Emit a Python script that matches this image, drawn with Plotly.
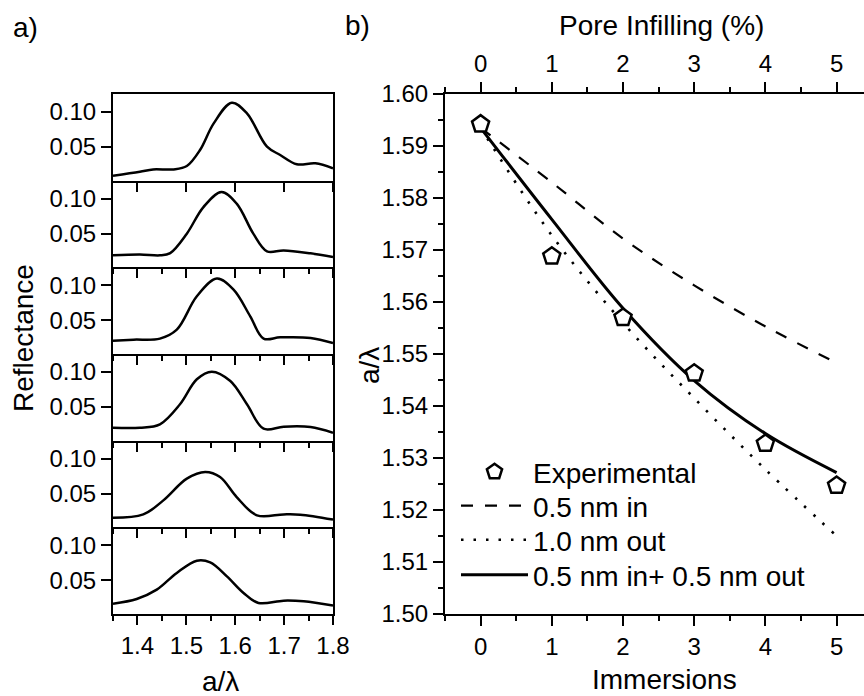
import plotly.graph_objects as go

W, H = 864, 696
FONT = "Liberation Sans, Arial, sans-serif"

# ---------- panel a) reflectance spectra (top to bottom) ----------
spec1_x = [1.35, 1.405, 1.432, 1.474, 1.501, 1.528, 1.556, 1.593, 1.624, 1.665, 1.692, 1.726, 1.764, 1.80]
spec1_y = [0.009, 0.0147, 0.018, 0.018, 0.0229, 0.0457, 0.0838, 0.1133, 0.098, 0.0505, 0.0386, 0.0253, 0.0267, 0.0196]
spec2_x = [1.35, 1.405, 1.446, 1.467, 1.501, 1.535, 1.572, 1.603, 1.637, 1.665, 1.699, 1.754, 1.80]
spec2_y = [0.019, 0.0204, 0.019, 0.0223, 0.05, 0.088, 0.1094, 0.0929, 0.05, 0.0247, 0.0261, 0.0219, 0.0166]
spec3_x = [1.35, 1.392, 1.446, 1.4805, 1.5215, 1.5625, 1.5966, 1.6307, 1.658, 1.692, 1.754, 1.80]
spec3_y = [0.021, 0.0224, 0.0239, 0.0367, 0.0843, 0.1096, 0.0939, 0.0557, 0.0239, 0.0257, 0.0249, 0.0177]
spec4_x = [1.35, 1.405, 1.446, 1.487, 1.5215, 1.552, 1.590, 1.624, 1.658, 1.699, 1.754, 1.80]
spec4_y = [0.0204, 0.0204, 0.0253, 0.0539, 0.0896, 0.1005, 0.0871, 0.0539, 0.019, 0.0219, 0.0214, 0.0133]
spec5_x = [1.35, 1.412, 1.453, 1.501, 1.5385, 1.569, 1.603, 1.6445, 1.699, 1.733, 1.80]
spec5_y = [0.0157, 0.0204, 0.0404, 0.0714, 0.0809, 0.0737, 0.0451, 0.019, 0.0204, 0.0200, 0.0129]
spec6_x = [1.35, 1.3985, 1.4395, 1.4805, 1.5215, 1.5488, 1.583, 1.617, 1.6475, 1.699, 1.74, 1.80]
spec6_y = [0.0167, 0.0234, 0.0367, 0.0606, 0.0781, 0.0757, 0.0557, 0.032, 0.0177, 0.021, 0.0200, 0.0139]

spectra_x = [spec1_x, spec2_x, spec3_x, spec4_x, spec5_x, spec6_x]
spectra_y = [spec1_y, spec2_y, spec3_y, spec4_y, spec5_y, spec6_y]

refl_ticks = [0.05, 0.10]
alam_ticks = [1.4, 1.5, 1.6, 1.7, 1.8]

# ---------- panel b) peak position vs immersions ----------
immersions = [0, 1, 2, 3, 4, 5]
experimental = [1.5942, 1.5688, 1.5570, 1.5463, 1.5328, 1.5247]
model_in = [1.5935, 1.5830, 1.5722, 1.5632, 1.5553, 1.5483]
model_out = [1.5935, 1.5728, 1.5560, 1.5415, 1.5278, 1.5150]
model_both = [1.5935, 1.5759, 1.5588, 1.5449, 1.5347, 1.5272]

fig = go.Figure()

# layout geometry (pixels)
L_X0, L_X1 = 113, 333
R_X0 = 445
TOP, BOT = 94, 614
n = 6
ph = (BOT - TOP) / n

def py(p):
    return 1 - p / H

layout = dict(
    width=W, height=H,
    margin=dict(l=0, r=0, t=0, b=0, pad=0, autoexpand=False),
    paper_bgcolor="white",
    plot_bgcolor="rgba(0,0,0,0)",
    font=dict(family=FONT, size=24, color="black"),
    showlegend=True,
)

for i in range(n):
    k = i + 1
    xa = "xaxis" if k == 1 else f"xaxis{k}"
    ya = "yaxis" if k == 1 else f"yaxis{k}"
    xr = "x" if k == 1 else f"x{k}"
    yr = "y" if k == 1 else f"y{k}"
    fig.add_trace(go.Scatter(
        x=spectra_x[i], y=spectra_y[i], mode="lines",
        line=dict(color="black", width=2.5, shape="spline", smoothing=1.0),
        xaxis=xr, yaxis=yr, showlegend=False, hoverinfo="skip"))
    top = TOP + i * ph
    bot = top + ph
    xd = dict(
        domain=[L_X0 / W, L_X1 / W], anchor=yr, range=[1.35, 1.8],
        showline=True, mirror=(k == 1), linewidth=2, linecolor="black",
        ticks="outside", ticklen=9, tickwidth=2, tickcolor="black",
        tickvals=alam_ticks, ticktext=[f"{v:.1f}" for v in alam_ticks],
        showticklabels=(k == n), showgrid=False, zeroline=False,
        tickfont=dict(size=24),
    )
    if k > 1:
        xd["minor"] = dict(ticks="outside", ticklen=5, tickwidth=2, tickcolor="black",
                           dtick=0.05, tick0=1.35, showgrid=False)
        xd["matches"] = "x"
    layout[xa] = xd
    layout[ya] = dict(
        domain=[py(bot), py(top)], anchor=xr, range=[0.0019, 0.1257],
        showline=True, mirror=True, linewidth=2, linecolor="black",
        ticks="outside", ticklen=10, tickwidth=2, tickcolor="black",
        tickvals=refl_ticks, ticktext=[f"{v:.2f}" for v in refl_ticks],
        showgrid=False, zeroline=False, tickfont=dict(size=24),
    )

# right panel axes: x7 (bottom), y7, x8 (top)
xrange_r = [-0.5, 5.385]
layout["xaxis7"] = dict(
    domain=[R_X0 / W, 1.0], anchor="y7", range=xrange_r,
    showline=True, linewidth=2, linecolor="black",
    ticks="outside", ticklen=10, tickwidth=2, tickcolor="black",
    tickmode="linear", tick0=0, dtick=1,
    minor=dict(ticks="outside", ticklen=5, tickwidth=2, tickcolor="black", dtick=0.5, tick0=0.5),
    showgrid=False, zeroline=False, tickfont=dict(size=24),
)
layout["yaxis7"] = dict(
    domain=[py(BOT), py(TOP)], anchor="x7", range=[1.50, 1.60],
    showline=True, linewidth=2, linecolor="black",
    ticks="outside", ticklen=10, tickwidth=2, tickcolor="black",
    tickmode="linear", tick0=1.50, dtick=0.01, tickformat=".2f",
    minor=dict(ticks="outside", ticklen=5, tickwidth=2, tickcolor="black", dtick=0.005, tick0=1.50),
    showgrid=False, zeroline=False, tickfont=dict(size=24),
)
layout["xaxis8"] = dict(
    overlaying="x7", anchor="y7", side="top", range=xrange_r,
    showline=True, linewidth=2, linecolor="black",
    ticks="outside", ticklen=10, tickwidth=2, tickcolor="black",
    tickmode="linear", tick0=0, dtick=1,
    minor=dict(ticks="outside", ticklen=5, tickwidth=2, tickcolor="black", dtick=0.5, tick0=0.5),
    showgrid=False, zeroline=False, tickfont=dict(size=24),
)

fig.add_trace(go.Scatter(
    x=immersions, y=model_in, mode="lines", name="0.5 nm in",
    line=dict(color="black", width=2.2, dash="12px,12px", shape="spline"),
    xaxis="x7", yaxis="y7", legend="legend2", hoverinfo="skip"))
fig.add_trace(go.Scatter(
    x=immersions, y=model_out, mode="lines", name="1.0 nm out",
    line=dict(color="black", width=2.6, dash="2.5px,10px", shape="spline"),
    xaxis="x7", yaxis="y7", legend="legend3", hoverinfo="skip"))
fig.add_trace(go.Scatter(
    x=immersions, y=model_both, mode="lines", name="0.5 nm in+ 0.5 nm out",
    line=dict(color="black", width=3, shape="spline"),
    xaxis="x7", yaxis="y7", legend="legend4", hoverinfo="skip"))
fig.add_trace(go.Scatter(
    x=immersions, y=experimental, mode="markers", name="Experimental",
    marker=dict(symbol="pentagon", size=18, color="white",
                line=dict(color="black", width=2.5)),
    xaxis="x7", yaxis="y7", legend="legend", hoverinfo="skip"))
# invisible trace so the top (pore infilling) axis is drawn
fig.add_trace(go.Scatter(
    x=immersions, y=experimental, mode="markers", marker=dict(opacity=0),
    xaxis="x8", yaxis="y7", showlegend=False, hoverinfo="skip"))

leg_common = dict(bgcolor="rgba(0,0,0,0)", borderwidth=0, xanchor="left", yanchor="middle",
                  itemwidth=67, font=dict(family=FONT, size=28, color="black"))
leg_x = 456 / W
for name, yc in [("legend", 472), ("legend2", 506), ("legend3", 540), ("legend4", 575)]:
    layout[name] = dict(leg_common, x=leg_x, y=py(yc))

ann = []
def add_text(text, x, y, size=28, angle=0, xanchor="center"):
    ann.append(dict(text=text, x=x / W, y=py(y), xref="paper", yref="paper",
                    showarrow=False, textangle=angle, xanchor=xanchor, yanchor="middle",
                    font=dict(family=FONT, size=size, color="black")))

add_text("a)", 11, 27, xanchor="left")
add_text("b)", 343, 25, xanchor="left")
add_text("Reflectance", 23, 338, angle=-90)
add_text("a/λ", 220, 681)
add_text("Pore Infilling (%)", 661, 26)
add_text("Immersions", 664, 679)
add_text("a/λ", 369, 366, angle=-90)
layout["annotations"] = ann

fig.update_layout(**layout)
fig.write_html("out.html")
